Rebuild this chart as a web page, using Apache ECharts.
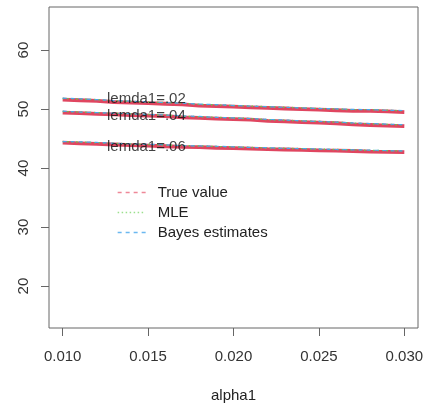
<!DOCTYPE html>
<html>
<head>
<meta charset="utf-8">
<script src="https://cdn.jsdelivr.net/npm/echarts@6/dist/echarts.min.js"></script>
<style>
  html, body { margin: 0; padding: 0; background: #fff; }
  #chart { width: 426px; height: 405px; }
</style>
</head>
<body>
<div id="chart"></div>
<script>
// alpha1 grid
const alpha1 = [0.010, 0.011, 0.012, 0.013, 0.014, 0.015, 0.016, 0.017, 0.018, 0.019, 0.020,
                0.021, 0.022, 0.023, 0.024, 0.025, 0.026, 0.027, 0.028, 0.029, 0.030];

// True value curves for lemda1 = .02, .04, .06
const trueL02 = [51.6, 51.5, 51.4, 51.2, 51.1, 51.0, 50.9, 50.8, 50.6, 50.5, 50.4,
                 50.3, 50.2, 50.1, 50.0, 49.9, 49.8, 49.7, 49.7, 49.6, 49.5];
const trueL04 = [49.4, 49.3, 49.2, 49.1, 49.0, 48.9, 48.8, 48.6, 48.5, 48.4, 48.3,
                 48.2, 48.0, 47.9, 47.8, 47.7, 47.6, 47.4, 47.3, 47.2, 47.1];
const trueL06 = [44.3, 44.2, 44.1, 44.0, 43.9, 43.8, 43.7, 43.6, 43.55, 43.45, 43.4,
                 43.3, 43.2, 43.15, 43.1, 43.0, 42.95, 42.9, 42.8, 42.75, 42.7];

// MLE curves
const mleL02 = [51.8, 51.7, 51.6, 51.4, 51.3, 51.2, 51.1, 51.0, 50.8, 50.7, 50.6,
                50.5, 50.4, 50.3, 50.2, 50.1, 50.0, 49.9, 49.9, 49.8, 49.7];
const mleL04 = [49.6, 49.5, 49.4, 49.3, 49.2, 49.1, 49.0, 48.8, 48.7, 48.6, 48.5,
                48.4, 48.2, 48.1, 48.0, 47.9, 47.8, 47.6, 47.5, 47.4, 47.3];
const mleL06 = [44.5, 44.4, 44.3, 44.2, 44.1, 44.0, 43.9, 43.8, 43.75, 43.65, 43.6,
                43.5, 43.4, 43.35, 43.3, 43.2, 43.15, 43.1, 43.0, 42.95, 42.9];

// Bayes estimate curves
const bayesL02 = [51.85, 51.75, 51.6, 51.45, 51.35, 51.2, 51.1, 51.0, 50.85, 50.75, 50.6,
                  50.5, 50.4, 50.3, 50.2, 50.1, 50.05, 49.95, 49.9, 49.8, 49.75];
const bayesL04 = [49.65, 49.5, 49.4, 49.3, 49.2, 49.1, 49.0, 48.85, 48.75, 48.6, 48.5,
                  48.4, 48.25, 48.15, 48.0, 47.9, 47.8, 47.65, 47.55, 47.45, 47.35];
const bayesL06 = [44.5, 44.45, 44.35, 44.2, 44.1, 44.05, 43.95, 43.8, 43.75, 43.7, 43.6,
                  43.5, 43.45, 43.35, 43.3, 43.25, 43.15, 43.1, 43.05, 42.95, 42.9];

// curve annotations: [alpha1, y, text]
const curveLabels = [
  [0.0149, 51.65, 'lemda1=.02'],
  [0.0149, 48.8, 'lemda1=.04'],
  [0.0149, 43.65, 'lemda1=.06']
];

const yTicks = [20, 30, 40, 50, 60];
const xTicks = [0.010, 0.015, 0.020, 0.025, 0.030];
const seriesNames = ['True value', 'MLE', 'Bayes estimates'];

const RED = '#E04660', GREEN = '#61D04F', BLUE = '#4AA8EA';
const FONT = 'Liberation Sans, Arial, sans-serif';

const pairs = ys => alpha1.map((x, i) => [x, ys[i]]);

function curve(name, ys, color, width, type, z) {
  return {
    type: 'line', name: name, data: pairs(ys), z: z,
    symbol: 'none', showSymbol: false, silent: true,
    lineStyle: { color: color, width: width, type: type },
    itemStyle: { color: color }
  };
}

const series = [];
[trueL02, trueL04, trueL06].forEach(d => series.push(curve(seriesNames[0], d, RED, 3.8, 'solid', 2)));
[mleL02, mleL04, mleL06].forEach(d => series.push(curve(seriesNames[1], d, GREEN, 1.4, [1.5, 3], 3)));
[bayesL02, bayesL04, bayesL06].forEach(d => series.push(curve(seriesNames[2], d, BLUE, 1.2, [4, 4], 4)));

series.push({
  type: 'scatter', name: 'annotations', symbolSize: 0, z: 5, silent: true,
  data: curveLabels,
  label: {
    show: true, position: 'inside',
    formatter: p => p.data[2],
    color: '#111', fontFamily: FONT, fontSize: 15
  }
});

const legendItem = (name, color, type) => ({
  name: name,
  itemStyle: { opacity: 0 },
  lineStyle: { color: color, width: 1.3, type: type }
});

const chart = echarts.init(document.getElementById('chart'));
chart.setOption({
  animation: false,
  backgroundColor: '#fff',
  grid: {
    left: 49, right: 8, top: 7, bottom: 77,
    outerBoundsMode: 'none', containLabel: false,
    show: true, borderColor: '#666', borderWidth: 1
  },
  legend: {
    left: 112, top: 180, orient: 'vertical',
    itemWidth: 28, itemHeight: 14, itemGap: 5,
    textStyle: { fontFamily: FONT, fontSize: 15, color: '#222', padding: [0, 0, 0, 7], lineHeight: 14 },
    data: [
      legendItem(seriesNames[0], '#EE8898', [4, 4]),
      legendItem(seriesNames[1], '#9BE08D', [1.5, 2.5]),
      legendItem(seriesNames[2], '#6BB8F0', [4, 4])
    ]
  },
  xAxis: {
    type: 'value', min: 0.0092, max: 0.0308,
    name: 'alpha1', nameLocation: 'middle', nameGap: 60,
    nameTextStyle: { fontFamily: FONT, fontSize: 15, color: '#222' },
    axisLine: { show: false },
    splitLine: { show: false },
    axisTick: { show: true, length: 8, customValues: xTicks, lineStyle: { color: '#666' } },
    axisLabel: {
      customValues: xTicks, margin: 21,
      formatter: v => v.toFixed(3),
      fontFamily: FONT, fontSize: 15, color: '#333'
    }
  },
  yAxis: {
    type: 'value', min: 12.9, max: 67.3,
    axisLine: { show: false },
    splitLine: { show: false },
    axisTick: { show: true, length: 8, customValues: yTicks, lineStyle: { color: '#666' } },
    axisLabel: {
      customValues: yTicks, rotate: 90, margin: 18,
      fontFamily: FONT, fontSize: 15, color: '#333'
    }
  },
  series: series
});
</script>
</body>
</html>
